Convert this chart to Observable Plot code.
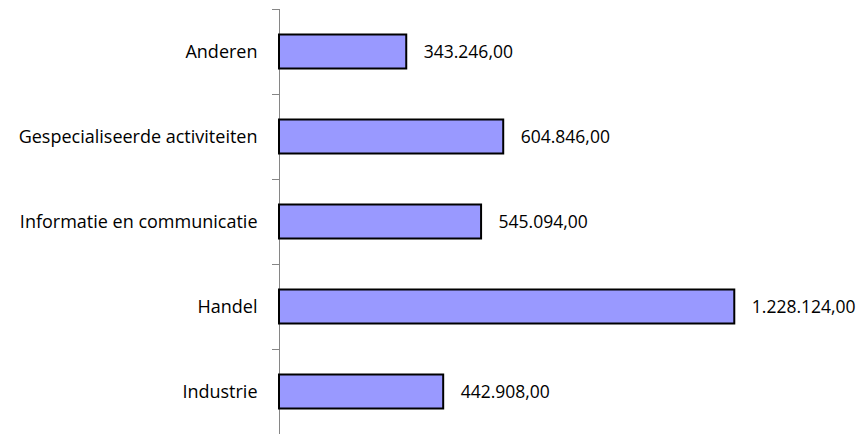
<!DOCTYPE html>
<html>
<head>
<meta charset="utf-8">
<script src="https://cdn.jsdelivr.net/npm/d3@7"></script>
<script src="https://cdn.jsdelivr.net/npm/@observablehq/plot@0.6"></script>
<style>
  html, body { margin: 0; padding: 0; background: white; }
</style>
</head>
<body>
<div id="chart"></div>
<script>
const categories = ["Anderen", "Gespecialiseerde activiteiten", "Informatie en communicatie", "Handel", "Industrie"];
const values = [343246, 604846, 545094, 1228124, 442908];

const data = categories.map((c, i) => ({category: c, value: values[i]}));
const fmt = d3.formatLocale({decimal: ",", thousands: ".", grouping: [3], currency: ["", ""]}).format(",.2f");

const chart = Plot.plot({
  width: 865,
  height: 434,
  marginLeft: 279,
  marginRight: 67,
  marginTop: 9,
  marginBottom: 0,
  x: {domain: [0, 1400000], axis: null},
  y: {domain: categories, padding: 0, axis: null, label: null},
  style: {fontFamily: "Open Sans", fontSize: "17.5px", color: "black", background: "white"},
  marks: [
    Plot.ruleX([0], {stroke: "#868686", strokeWidth: 1}),
    Plot.axisY({tickSize: 7, tickFormat: () => "", label: null, dy: -42.5, stroke: "#868686", strokeOpacity: 1}),
    Plot.axisY({tickSize: 0, tickPadding: 22, label: null, fontSize: 18, fill: "black"}),
    Plot.barX(data, {x: "value", y: "category", fill: "#9999ff", stroke: "black", strokeWidth: 2, insetTop: 25.5, insetBottom: 25.5}),
    Plot.text(data, {x: "value", y: "category", text: d => fmt(d.value), textAnchor: "start", dx: 17, fontSize: 17.5, fill: "black", letterSpacing: 0.7})
  ]
});
document.getElementById("chart").appendChild(chart);
</script>
</body>
</html>
